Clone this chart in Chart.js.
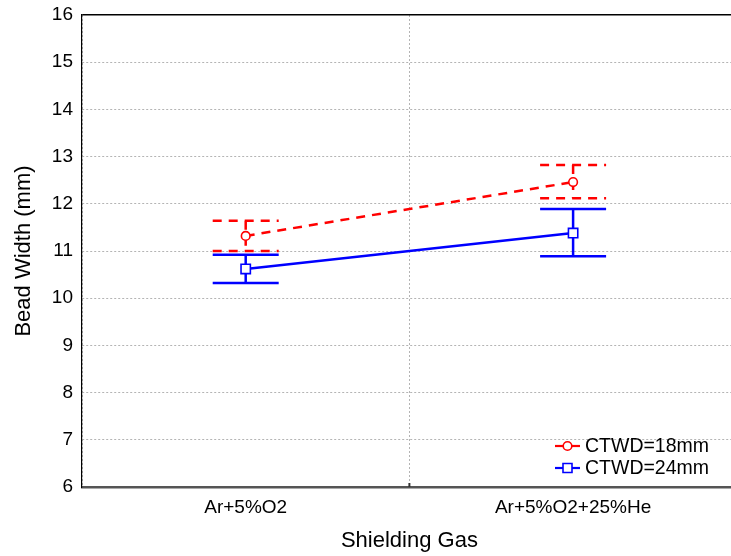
<!DOCTYPE html>
<html>
<head>
<meta charset="utf-8">
<script src="https://cdn.jsdelivr.net/npm/chart.js@4.4.1/dist/chart.umd.min.js"></script>
<style>
  html, body { margin: 0; padding: 0; background: #fff; overflow: hidden; }
  #wrap { width: 731px; height: 556px; overflow: hidden; }
  canvas { display: block; }
</style>
</head>
<body>
<div id="wrap"><canvas id="c" width="745" height="556"></canvas></div>
<script>
// Shielding gas groups on the x axis
const categories = ['Ar+5%O2', 'Ar+5%O2+25%He'];

// CTWD = 18 mm: mean bead width and interval limits (mm)
const ctwd18Mean  = [11.32, 12.46];
const ctwd18Upper = [11.64, 12.82];
const ctwd18Lower = [11.00, 12.12];

// CTWD = 24 mm: mean bead width and interval limits (mm)
const ctwd24Mean  = [10.62, 11.38];
const ctwd24Upper = [10.92, 11.89];
const ctwd24Lower = [10.32, 10.89];

// y axis range and labelled ticks
const yMin = 6, yMax = 16;
const yTickValues = [6, 7, 8, 9, 10, 11, 12, 13, 14, 15, 16];

const FONT = 'Liberation Sans, Arial, sans-serif';

const intervals = [
  { upper: ctwd18Upper, lower: ctwd18Lower },
  { upper: ctwd24Upper, lower: ctwd24Lower }
];

// Whisker lines with horizontal caps, drawn under the markers
const errorBars = {
  id: 'errorBars',
  beforeDatasetsDraw(chart) {
    const { ctx, scales: { y } } = chart;
    const capHalf = 33;
    chart.data.datasets.forEach((ds, i) => {
      const meta = chart.getDatasetMeta(i);
      const iv = intervals[i];
      ctx.save();
      ctx.strokeStyle = ds.borderColor;
      ctx.lineWidth = 2.5;
      ctx.setLineDash(ds.borderDash || []);
      meta.data.forEach((pt, j) => {
        const yu = y.getPixelForValue(iv.upper[j]);
        const yl = y.getPixelForValue(iv.lower[j]);
        ctx.beginPath();
        ctx.moveTo(pt.x, yu); ctx.lineTo(pt.x, yl);
        ctx.moveTo(pt.x - capHalf, yu); ctx.lineTo(pt.x + capHalf, yu);
        ctx.moveTo(pt.x - capHalf, yl); ctx.lineTo(pt.x + capHalf, yl);
        ctx.stroke();
      });
      ctx.restore();
    });
  }
};

// Short inward tick marks on the bottom axis at the category boundaries
const boundaryTicks = {
  id: 'boundaryTicks',
  afterDraw(chart) {
    const { ctx, scales: { x }, chartArea } = chart;
    ctx.save();
    ctx.strokeStyle = '#333333';
    ctx.lineWidth = 2;
    for (let i = 1; i < categories.length; i++) {
      const px = (x.getPixelForTick(i - 1) + x.getPixelForTick(i)) / 2;
      ctx.beginPath();
      ctx.moveTo(px, chartArea.bottom);
      ctx.lineTo(px, chartArea.bottom - 4);
      ctx.stroke();
    }
    ctx.restore();
  }
};

// Legend inside the lower right of the plot
const innerLegend = {
  id: 'innerLegend',
  afterDraw(chart) {
    const { ctx } = chart;
    const x0 = 555, x1 = 580, textX = 585;
    const rows = [446, 468];
    chart.data.datasets.forEach((ds, i) => {
      const yy = rows[i];
      const cx = (x0 + x1) / 2;
      ctx.save();
      ctx.strokeStyle = ds.borderColor;
      ctx.lineWidth = 2.2;
      ctx.setLineDash([]);
      ctx.beginPath();
      ctx.moveTo(x0, yy); ctx.lineTo(x1, yy);
      ctx.stroke();
      ctx.fillStyle = '#fff';
      ctx.lineWidth = 1.6;
      ctx.beginPath();
      if (ds.pointStyle === 'rect') {
        ctx.rect(cx - 4.5, yy - 4.5, 9, 9);
      } else {
        ctx.arc(cx, yy, 4.3, 0, Math.PI * 2);
      }
      ctx.fill(); ctx.stroke();
      ctx.fillStyle = '#000';
      ctx.font = '19.5px ' + FONT;
      ctx.textBaseline = 'middle';
      ctx.textAlign = 'left';
      ctx.fillText(ds.label, textX, yy + 1);
      ctx.restore();
    });
  }
};

new Chart(document.getElementById('c'), {
  type: 'line',
  data: {
    labels: categories,
    datasets: [
      {
        label: 'CTWD=18mm',
        data: ctwd18Mean,
        borderColor: '#ff0000',
        borderWidth: 2.5,
        borderDash: [9, 7],
        pointStyle: 'circle',
        pointRadius: 4.3,
        pointBorderWidth: 1.6,
        pointBackgroundColor: '#ffffff',
        pointBorderColor: '#ff0000',
        fill: false,
        tension: 0
      },
      {
        label: 'CTWD=24mm',
        data: ctwd24Mean,
        borderColor: '#0000ff',
        borderWidth: 2.5,
        pointStyle: 'rect',
        pointRadius: 6.6,
        pointBorderWidth: 1.6,
        pointBackgroundColor: '#ffffff',
        pointBorderColor: '#0000ff',
        fill: false,
        tension: 0
      }
    ]
  },
  options: {
    responsive: false,
    animation: false,
    events: [],
    layout: { padding: { top: 15, right: 0, left: 0, bottom: 0 } },
    plugins: {
      legend: { display: false },
      tooltip: { enabled: false }
    },
    scales: {
      x: {
        type: 'category',
        offset: true,
        afterFit(scale) {
          scale.height = 69;
          scale.paddingLeft = 0;
          scale.paddingRight = 0;
        },
        grid: {
          offset: true,
          drawTicks: false,
          color: '#b4b4b4',
          lineWidth: 1
        },
        border: { display: true, color: '#555555', width: 2.5, dash: [2, 2] },
        ticks: {
          color: '#000',
          padding: 9,
          font: { family: FONT, size: 19 },
          maxRotation: 0
        },
        title: {
          display: true,
          text: 'Shielding Gas',
          color: '#000',
          font: { family: FONT, size: 22 },
          padding: { top: 0, bottom: 2 }
        }
      },
      y: {
        min: yMin,
        max: yMax,
        afterFit(scale) {
          scale.width = 82;
          scale.paddingTop = 0;
          scale.paddingBottom = 0;
        },
        afterBuildTicks(scale) {
          scale.ticks = yTickValues.map(v => ({ value: v }));
        },
        grid: {
          drawTicks: false,
          color: c => (c.tick && c.tick.value === yMax) ? '#000000'
                    : (c.tick && c.tick.value === yMin) ? 'rgba(0,0,0,0)' : '#b4b4b4',
          lineWidth: c => (c.tick && c.tick.value === yMax) ? 1.5 : 1
        },
        border: {
          display: true,
          color: '#000000',
          width: 1.2,
          dash: c => (c.tick && c.tick.value === yMax) ? [] : [2, 2]
        },
        ticks: {
          color: '#000',
          padding: 9,
          font: { family: FONT, size: 19 },
          callback: v => String(v)
        },
        title: {
          display: true,
          text: 'Bead Width (mm)',
          color: '#000',
          font: { family: FONT, size: 22 },
          padding: { top: 11, bottom: 0 }
        }
      }
    }
  },
  plugins: [errorBars, boundaryTicks, innerLegend]
});
</script>
</body>
</html>
